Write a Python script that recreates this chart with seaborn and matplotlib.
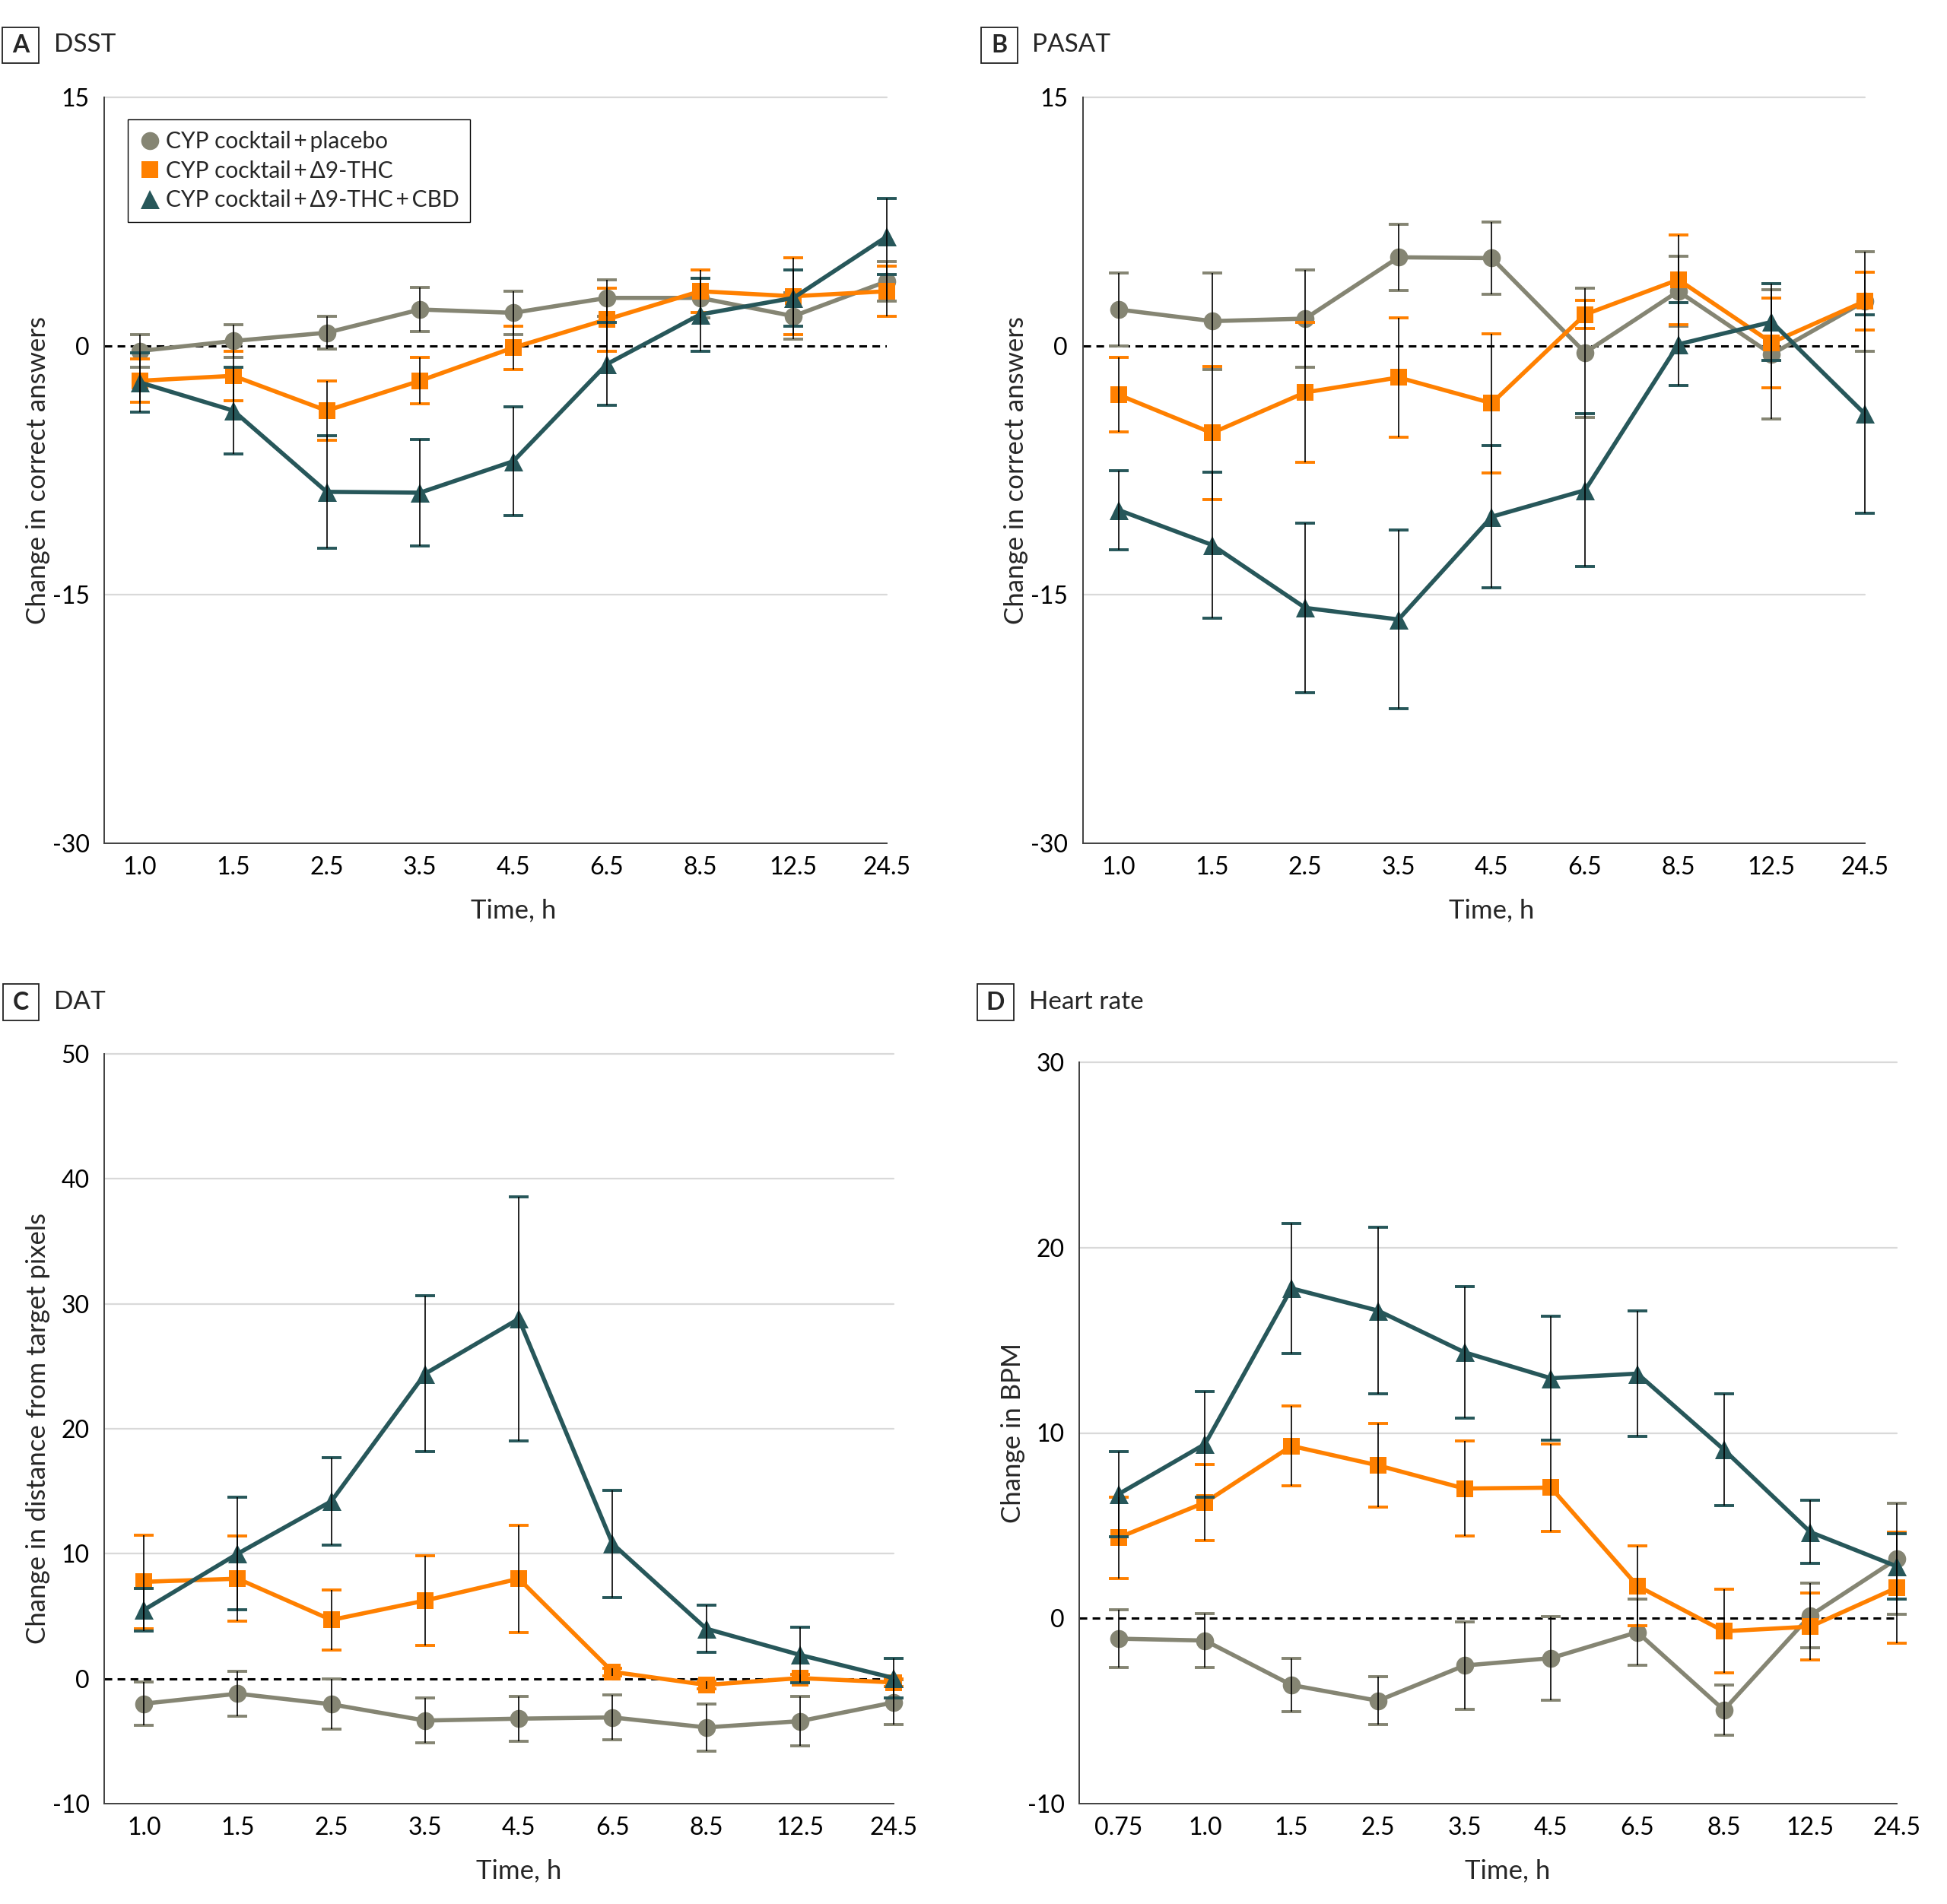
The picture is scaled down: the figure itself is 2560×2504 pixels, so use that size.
import matplotlib
matplotlib.use("Agg")
import matplotlib.pyplot as plt
from matplotlib.lines import Line2D
from matplotlib.patches import Rectangle
import numpy as np
import seaborn as sns

sns.set_theme(style="white")
plt.rcParams['font.family'] = ['Lato', 'DejaVu Sans']
plt.rcParams['axes.unicode_minus'] = False

# ---- data ----
times = ['1.0', '1.5', '2.5', '3.5', '4.5', '6.5', '8.5', '12.5', '24.5']
times_hr = ['0.75', '1.0', '1.5', '2.5', '3.5', '4.5', '6.5', '8.5', '12.5', '24.5']

labels = ['CYP cocktail\u2009+\u2009placebo', 'CYP cocktail\u2009+\u2009Δ9-THC',
          'CYP cocktail\u2009+\u2009Δ9-THC\u2009+\u2009CBD']

dsst_placebo = [-0.3, 0.3, 0.8, 2.2, 2.0, 2.9, 2.9, 1.8, 3.9]
dsst_placebo_err = [1.0, 1.0, 1.0, 1.35, 1.3, 1.1, 1.2, 1.4, 1.2]
dsst_thc = [-2.1, -1.8, -3.9, -2.1, -0.1, 1.6, 3.3, 3.0, 3.3]
dsst_thc_err = [1.3, 1.5, 1.8, 1.4, 1.3, 1.9, 1.3, 2.3, 1.5]
dsst_cbd = [-2.2, -3.9, -8.8, -8.85, -6.95, -1.1, 1.9, 2.9, 6.6]
dsst_cbd_err = [1.8, 2.6, 3.4, 3.2, 3.3, 2.5, 2.2, 1.7, 2.3]

pasat_placebo = [2.2, 1.5, 1.65, 5.35, 5.3, -0.4, 3.3, -0.5, 2.7]
pasat_placebo_err = [2.2, 2.9, 2.95, 2.0, 2.2, 3.9, 2.1, 3.9, 3.0]
pasat_thc = [-2.95, -5.25, -2.8, -1.9, -3.45, 1.9, 4.0, 0.2, 2.7]
pasat_thc_err = [2.25, 4.0, 4.2, 3.6, 4.2, 0.85, 2.7, 2.7, 1.75]
pasat_cbd = [-9.9, -12.0, -15.8, -16.5, -10.3, -8.7, 0.1, 1.45, -4.1]
pasat_cbd_err = [2.4, 4.4, 5.1, 5.4, 4.3, 4.6, 2.5, 2.3, 6.0]

dat_placebo = [-2.0, -1.2, -2.05, -3.35, -3.2, -3.1, -3.9, -3.4, -1.9]
dat_placebo_err = [1.75, 1.8, 2.0, 1.8, 1.8, 1.8, 1.9, 2.0, 1.8]
dat_thc = [7.75, 8.0, 4.7, 6.25, 8.0, 0.55, -0.5, 0.05, -0.3]
dat_thc_err = [3.75, 3.4, 2.4, 3.6, 4.3, 0.3, 0.3, 0.3, 0.3]
dat_cbd = [5.5, 10.0, 14.2, 24.4, 28.8, 10.8, 4.0, 1.9, 0.05]
dat_cbd_err = [1.7, 4.5, 3.5, 6.25, 9.75, 4.3, 1.9, 2.2, 1.6]

hr_placebo = [-1.1, -1.2, -3.6, -4.45, -2.55, -2.15, -0.75, -4.95, 0.15, 3.2]
hr_placebo_err = [1.55, 1.45, 1.45, 1.3, 2.35, 2.25, 1.8, 1.35, 1.75, 3.0]
hr_thc = [4.35, 6.25, 9.3, 8.25, 7.0, 7.05, 1.75, -0.7, -0.45, 1.65]
hr_thc_err = [2.2, 2.05, 2.15, 2.25, 2.55, 2.35, 2.15, 2.25, 1.8, 3.0]
hr_cbd = [6.7, 9.4, 17.8, 16.6, 14.35, 12.95, 13.2, 9.1, 4.65, 2.8]
hr_cbd_err = [2.3, 2.85, 3.5, 4.5, 3.55, 3.35, 3.4, 3.0, 1.7, 1.75]

colors = ['#858573', '#ff8000', '#27575a']
markers = ['o', 's', '^']
msizes = [17, 16, 18]

W, H = 2560, 2504
fig = plt.figure(figsize=(W / 100, H / 100), dpi=100)


def rect(left, top, right, bottom):
    return [left / W, 1 - bottom / H, (right - left) / W, (bottom - top) / H]


def panel(box, xoff, tlabels, series, errs, yticks, ylabel, letter, title, lbox):
    ax = fig.add_axes(box)
    n = len(tlabels)
    x = np.arange(n)
    for i in range(3):
        sns.lineplot(x=x, y=series[i], ax=ax, color=colors[i], marker=markers[i],
                     markersize=msizes[i], markeredgewidth=0, linewidth=4.0,
                     errorbar=None, zorder=3 + i, clip_on=False, legend=False)
        ax.errorbar(x, series[i], yerr=errs[i], fmt='none', ecolor=colors[i],
                    elinewidth=0, capsize=9.6, capthick=2.8, zorder=2.5 + i, clip_on=False)
    for i in range(3):
        ax.errorbar(x, series[i], yerr=errs[i], fmt='none', ecolor='black',
                    elinewidth=1.2, capsize=0, zorder=10, clip_on=False)

    ax.set_xlim(-xoff, n - 1)
    ax.set_ylim(yticks[0], yticks[-1])
    for v in yticks[1:]:
        if v != 0:
            ax.axhline(v, color='#d9d9d9', lw=1.6, zorder=0, clip_on=False)
    ax.axhline(0, color='black', lw=2.2, ls=(0, (3.3, 2.3)), zorder=1)

    ax.set_xticks(x)
    ax.set_xticklabels(tlabels)
    ax.set_yticks(yticks)
    ax.set_yticklabels([str(v) for v in yticks])
    ax.tick_params(axis='both', length=8, width=1.3, color='#404040', labelsize=23,
                   labelcolor='black', direction='out')
    ax.tick_params(axis='x', pad=4)
    ax.tick_params(axis='y', pad=6)
    for s in ['top', 'right']:
        ax.spines[s].set_visible(False)
    for s in ['left', 'bottom']:
        ax.spines[s].set_color('#404040')
        ax.spines[s].set_linewidth(1.4)

    wpx = box[2] * W
    hpx = box[3] * H
    ax.set_xlabel('Time, h', fontsize=25)
    ax.set_ylabel(ylabel, fontsize=25)
    mid = ((n - 1) / 2 + xoff) / (n - 1 + xoff)
    ax.xaxis.set_label_coords(mid, -72 / hpx)
    ax.yaxis.set_label_coords(-71 / wpx, 0.5)

    bx0, by0, bx1, by1 = lbox
    fig.add_artist(Rectangle((bx0 / W, 1 - by1 / H), (bx1 - bx0) / W, (by1 - by0) / H,
                             transform=fig.transFigure, fill=False, ec='#222222', lw=1.3))
    fig.text((bx0 + bx1) / 2 / W, 1 - (by0 + by1) / 2 / H, letter, ha='center', va='center',
             fontsize=23, fontweight='bold')
    fig.text((bx1 + 20) / W, 1 - (by0 + by1) / 2 / H, title, ha='left', va='center', fontsize=24)
    return ax


axA = panel(rect(137, 128, 1166, 1109), 0.383, times,
            [dsst_placebo, dsst_thc, dsst_cbd], [dsst_placebo_err, dsst_thc_err, dsst_cbd_err],
            [-30, -15, 0, 15], 'Change in correct answers', 'A', 'DSST', (3, 36, 51, 83))
panel(rect(1423.5, 128, 2452, 1109), 0.387, times,
      [pasat_placebo, pasat_thc, pasat_cbd], [pasat_placebo_err, pasat_thc_err, pasat_cbd_err],
      [-30, -15, 0, 15], 'Change in correct answers', 'B', 'PASAT', (1289.5, 36, 1337.5, 83))
panel(rect(137, 1386, 1175, 2372), 0.424, times,
      [dat_placebo, dat_thc, dat_cbd], [dat_placebo_err, dat_thc_err, dat_cbd_err],
      [-10, 0, 10, 20, 30, 40, 50], 'Change in distance from target pixels', 'C', 'DAT',
      (4, 1294, 51, 1342))
panel(rect(1419, 1397, 2494, 2372), 0.455, times_hr,
      [hr_placebo, hr_thc, hr_cbd], [hr_placebo_err, hr_thc_err, hr_cbd_err],
      [-10, 0, 10, 20, 30], 'Change in BPM', 'D', 'Heart rate', (1285, 1294, 1333, 1342))

handles = [Line2D([], [], linestyle='none', marker=markers[i], color=colors[i],
                  markersize=msizes[i], markeredgewidth=0) for i in range(3)]
leg = axA.legend(handles, labels, loc='upper left', bbox_to_anchor=(0.0304, 0.9701),
                 frameon=True, fancybox=False, edgecolor='black', framealpha=1, fontsize=21.5,
                 borderaxespad=0, borderpad=0.5, labelspacing=0.35, handlelength=0.9,
                 handletextpad=0.25)
leg.get_frame().set_linewidth(1.0)
leg.set_zorder(20)

fig.savefig('out.png', dpi=100)
